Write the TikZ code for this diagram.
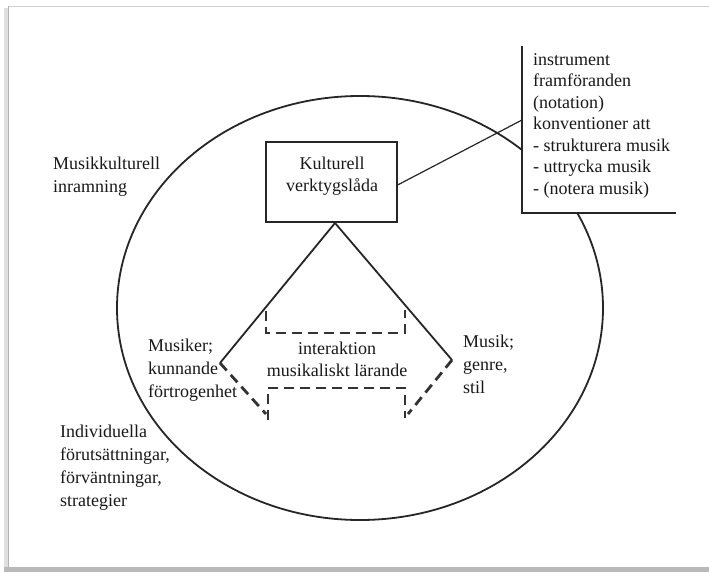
\documentclass[tikz,border=0pt]{standalone}
\usepackage{fontspec}
\setmainfont{Liberation Serif}
\usetikzlibrary{shapes.geometric}
\begin{document}
\begin{tikzpicture}[x=1pt,y=-1pt,
  lbl/.style={font=\fontsize{18}{23}\selectfont, align=left, inner sep=0pt, anchor=north west, text=black!90},
  lst/.style={font=\fontsize{18}{21.5}\selectfont, align=left, inner sep=0pt, anchor=north west, text=black!90},
  solidline/.style={line width=1.8pt, black!85},
  thinline/.style={line width=1.2pt, black!85},
  dashline/.style={line width=2.8pt, black!80, dash pattern=on 10pt off 6pt}]
\useasboundingbox (0,0) rectangle (709,572);
\fill[white] (0,0) rectangle (709,572);
% page frame
\fill[gray!25] (4,8) rectangle (8,572);
\fill[gray!55] (4,567) rectangle (709,572);
\fill[white] (8,6) rectangle (709,567);
\draw[gray!35, line width=0.8pt] (8,6) -- (709,6);
\draw[gray!60, line width=0.8pt] (8,6) -- (8,567);
% ellipse
\node[draw, ellipse, line width=1.8pt, black!85, minimum width=486pt, minimum height=424pt, inner sep=0pt] (circ) at (360,308) {};
% box
\node[draw, thinline, fill=white, minimum width=131pt, minimum height=80pt, inner sep=0pt] (kv) at (331.5,182) {};
\node[font=\fontsize{18}{22}\selectfont, align=center, inner sep=0pt, text=black!90] (kvt) at (332,176) {Kulturell\\verktygslåda};
% labels
\node[lbl] (mk) at (53,157) {Musikkulturell\\inramning};
\node[lbl] (ind) at (60,425) {Individuella\\förutsättningar,\\förväntningar,\\strategier};
\node[lbl] (mus) at (148,339) {Musiker;\\kunnande\\förtrogenhet};
\node[lbl] (mg) at (463,335) {Musik;\\genre,\\stil};
\node[font=\fontsize{18}{22}\selectfont, align=center, inner sep=0pt, text=black!90] (ia) at (337,359) {interaktion\\musikaliskt lärande};
% bracket with white background
\coordinate (bt) at (522,46);
\coordinate (bb) at (522,213);
\coordinate (be) at (676,213);
\coordinate (bj) at (522,120);
\fill[white] (bt) rectangle (be);
\node[lst] (tools) at (533,53) {instrument\\framföranden\\(notation)\\konventioner att\\- strukturera musik\\- uttrycka musik\\- (notera musik)};
\draw[thinline] (bt) -- (bb) -- (be);
\draw[thinline] ([yshift=-3pt]kv.east) -- (bj);
% triangle
\coordinate (apex) at (335,223);
\coordinate (lv) at (220,363);
\coordinate (rv) at (452,360);
\draw[solidline] (lv) -- (apex) -- (rv);
% dashed upper bracket
\coordinate (ul) at (266,311);
\coordinate (ur) at (405,310);
\draw[dashline] (ul) -- (266,333) -- (405,333) -- (ur);
% dashed lower
\coordinate (ll) at (268,420);
\coordinate (lr) at (405,418);
\draw[dashline] (lv) -- (266,414);
\draw[dashline] (ll) -- (268,388) -- (405,388) -- (lr);
\draw[dashline] (rv) -- (408,414);
\end{tikzpicture}
\end{document}
